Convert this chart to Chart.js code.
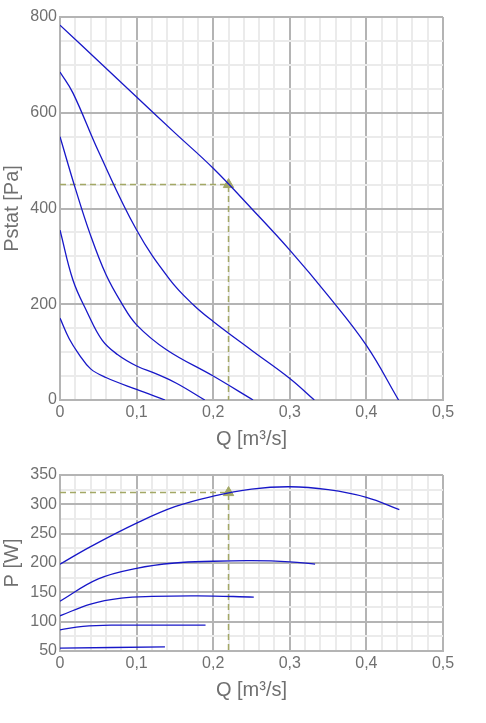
<!DOCTYPE html>
<html>
<head>
<meta charset="utf-8">
<script src="https://cdn.jsdelivr.net/npm/chart.js@4.4.1/dist/chart.umd.min.js"></script>
<style>
  html, body { margin: 0; padding: 0; background: #fff; }
  #wrap { width: 486px; }
  .box { position: relative; width: 486px; }
</style>
</head>
<body>
<div id="wrap">
  <div class="box" style="height:455px"><canvas id="pressure"></canvas></div>
  <div class="box" style="height:268px"><canvas id="power"></canvas></div>
</div>
<script>
// pressure curves, Q [m3/s] vs Pstat [Pa]
var pQ1 = [0, 0.05, 0.1, 0.15, 0.2, 0.25, 0.3, 0.35, 0.4, 0.442];
var pP1 = [783, 708, 633, 558, 484, 400, 313, 218, 114, 0];
var pQ2 = [0, 0.017, 0.05, 0.1, 0.1436, 0.174, 0.2, 0.25, 0.3, 0.332];
var pP2 = [685, 641, 520, 355, 251, 199, 164, 104, 45, 0];
var pQ3 = [0, 0.02, 0.039, 0.06, 0.0805, 0.1, 0.139, 0.2, 0.252];
var pP3 = [550, 442, 348, 262, 202, 157, 105, 50, 0];
var pQ4 = [0, 0.017, 0.035, 0.055, 0.075, 0.1, 0.125, 0.152, 0.189];
var pP4 = [355, 250, 185, 125, 95, 71, 55, 35, 0];
var pQ5 = [0, 0.012, 0.025, 0.04, 0.06, 0.1, 0.137];
var pP5 = [171, 128, 95, 65, 47, 22, 0];

// power curves, Q [m3/s] vs P [W]
var wQ1 = [0, 0.04, 0.1, 0.15, 0.2, 0.25, 0.3, 0.35, 0.4, 0.443];
var wP1 = [198, 228, 268, 296, 314, 326, 330, 325, 312, 291];
var wQ2 = [0, 0.05, 0.1, 0.15, 0.2, 0.25, 0.3, 0.333];
var wP2 = [135, 173, 191, 200, 203, 204, 202, 198];
var wQ3 = [0, 0.04, 0.08, 0.12, 0.18, 0.253];
var wP3 = [110, 130, 140, 143, 144, 142];
var wQ4 = [0, 0.03, 0.07, 0.19];
var wP4 = [86, 92, 94, 94];
var wQ5 = [0, 0.137];
var wP5 = [55, 57];

// operating point
var opQ = 0.22;
var opP = 450;
var opW = 320;

var curveColor = '#1717c8';
var guideColor = '#a3a866';
var majorGrid = '#b4b4b4';
var minorGrid = '#ebebeb';
var textColor = '#707070';

function pts(xs, ys) {
  return xs.map(function (x, i) { return { x: x, y: ys[i] }; });
}

function curve(xs, ys) {
  return {
    data: pts(xs, ys),
    borderColor: curveColor,
    borderWidth: 1.3,
    pointRadius: 0,
    tension: 0.4,
    fill: false
  };
}

function guide(y) {
  return {
    data: [{ x: 0, y: y }, { x: opQ, y: y }, { x: opQ, y: -1000 }],
    borderColor: guideColor,
    borderWidth: 1.5,
    borderDash: [6, 4],
    pointRadius: 0,
    tension: 0,
    fill: false
  };
}

function marker(y) {
  return {
    data: [{ x: opQ, y: y }],
    showLine: false,
    pointStyle: 'triangle',
    pointRadius: 6,
    backgroundColor: guideColor,
    borderColor: guideColor
  };
}

function isMajor(v, step) {
  return Math.abs(v / step - Math.round(v / step)) < 1e-6;
}

function gridColor(step) {
  return function (ctx) {
    if (!ctx.tick) { return minorGrid; }
    return isMajor(ctx.tick.value, step) ? majorGrid : minorGrid;
  };
}

function fmt(v) {
  return String(Math.round(v * 100) / 100).replace('.', ',');
}

function makeOptions(yMin, yMax, yStep, yMajor, yTitle, padBottom) {
  return {
    responsive: true,
    maintainAspectRatio: false,
    animation: false,
    layout: { padding: { left: 0, right: 43, top: 0, bottom: padBottom } },
    plugins: { legend: { display: false }, tooltip: { enabled: false } },
    scales: {
      x: {
        type: 'linear',
        min: 0, max: 0.5,
        border: { color: majorGrid, width: 2 },
        grid: { color: gridColor(0.1), lineWidth: 2, drawTicks: false },
        ticks: {
          stepSize: 0.02, autoSkip: false, maxRotation: 0, padding: 3,
          color: textColor, font: { family: 'Liberation Sans, Arial', size: 16 },
          callback: function (v) { return isMajor(v, 0.1) ? fmt(v) : ''; }
        },
        title: { display: true, text: 'Q [m³/s]', color: textColor, padding: 1,
                 font: { family: 'Liberation Sans, Arial', size: 20 } },
        afterFit: function (s) { s.height = 52; }
      },
      y: {
        type: 'linear',
        min: yMin, max: yMax,
        border: { color: majorGrid, width: 2 },
        grid: { color: gridColor(yMajor), lineWidth: 2, drawTicks: false },
        ticks: {
          stepSize: yStep, autoSkip: false, padding: 3,
          color: textColor, font: { family: 'Liberation Sans, Arial', size: 16 },
          callback: function (v) { return isMajor(v, yMajor) ? String(v) : ''; }
        },
        title: { display: true, text: yTitle, color: textColor, padding: 0,
                 font: { family: 'Liberation Sans, Arial', size: 20 } },
        afterFit: function (s) { s.width = 60; }
      }
    }
  };
}

var topOpts = makeOptions(0, 800, 50, 200, 'Pstat [Pa]', 3);
topOpts.layout.padding.top = 17;
new Chart(document.getElementById('pressure'), {
  type: 'line',
  data: {
    datasets: [
      curve(pQ1, pP1), curve(pQ2, pP2), curve(pQ3, pP3), curve(pQ4, pP4), curve(pQ5, pP5),
      guide(opP), marker(opP)
    ]
  },
  options: topOpts
});

var botOpts = makeOptions(50, 350, 25, 50, 'P [W]', 20);
botOpts.layout.padding.top = 20;
new Chart(document.getElementById('power'), {
  type: 'line',
  data: {
    datasets: [
      curve(wQ1, wP1), curve(wQ2, wP2), curve(wQ3, wP3), curve(wQ4, wP4), curve(wQ5, wP5),
      guide(opW), marker(opW)
    ]
  },
  options: botOpts
});
</script>
</body>
</html>
